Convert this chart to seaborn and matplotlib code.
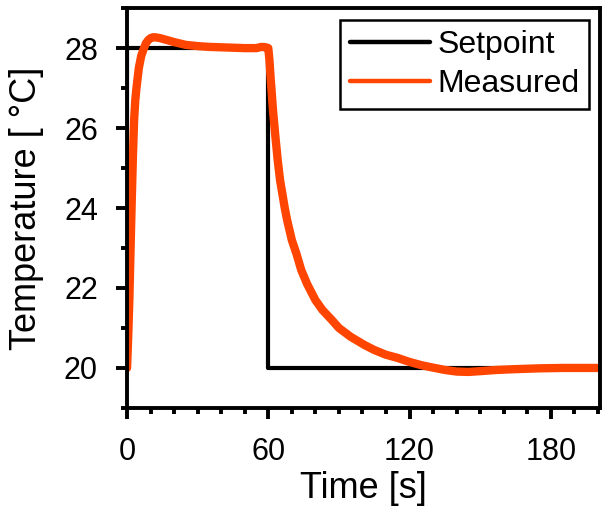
import numpy as np
import pandas as pd
import matplotlib
matplotlib.use("Agg")
import matplotlib.pyplot as plt
from matplotlib.ticker import MultipleLocator
import seaborn as sns

# -- Дані

# Задане значення (ступінчастий сигнал)
setpoint_t = [0, 0, 60, 60, 200]
setpoint_T = [20, 28, 28, 20, 20]

# Виміряна температура
measured_t = [0, 0.5, 1, 1.5, 2, 2.5, 3, 3.5, 4, 5, 6, 7, 8, 9, 10, 11, 12, 14,
              17, 20, 25, 30, 35, 40, 45, 50, 55, 57, 59, 60,
              60.5, 61, 61.5, 62, 63, 64, 65, 66, 67, 68, 70, 72, 74, 76.5, 80,
              83, 87, 90, 95, 101, 105, 110, 115, 120, 125, 129, 135, 140, 145,
              150, 157, 165, 175, 185, 200]
measured_T = [20, 20.8, 21.76, 23.0, 24.2, 25.3, 26.2, 26.7, 27.0, 27.5, 27.8,
              27.97, 28.12, 28.2, 28.25, 28.27, 28.27, 28.25,
              28.2, 28.15, 28.08, 28.05, 28.03, 28.02, 28.01, 28.0, 28.0, 28.03,
              28.02, 28.0,
              27.7, 27.25, 26.85, 26.45, 25.8, 25.2, 24.7, 24.35, 24.0, 23.7,
              23.2, 22.85, 22.45, 22.1, 21.7,
              21.45, 21.2, 21.0, 20.78, 20.57, 20.45, 20.33, 20.25, 20.15, 20.07,
              20.02, 19.95, 19.91, 19.9,
              19.92, 19.95, 19.97, 19.99, 20.0, 20.0]

df = pd.concat([
    pd.DataFrame({"t": setpoint_t, "T": setpoint_T, "series": "Setpoint"}),
    pd.DataFrame({"t": measured_t, "T": measured_T, "series": "Measured"}),
], ignore_index=True)

# -- Стиль

sns.set_style("ticks")
plt.rcParams["font.family"] = ["Liberation Sans", "DejaVu Sans"]
plt.rcParams["text.color"] = "black"
plt.rcParams["axes.labelcolor"] = "black"
plt.rcParams["xtick.color"] = "black"
plt.rcParams["ytick.color"] = "black"

fig = plt.figure(figsize=(6.05, 5.08), dpi=100)
ax = fig.add_axes([0.21, 0.197, 0.782, 0.787])

sns.lineplot(data=df, x="t", y="T", hue="series", size="series",
             sizes={"Setpoint": 3.0, "Measured": 6.0},
             palette={"Setpoint": "black", "Measured": "#FF4500"},
             estimator=None, sort=False, ax=ax)

ax.set_xlim(0, 201)
ax.set_ylim(19, 29)
ax.xaxis.set_major_locator(MultipleLocator(60))
ax.xaxis.set_minor_locator(MultipleLocator(10))
ax.yaxis.set_major_locator(MultipleLocator(2))
ax.yaxis.set_minor_locator(MultipleLocator(1))

for s in ax.spines.values():
    s.set_linewidth(2.8)
    s.set_color("black")

ax.tick_params(which="major", direction="out", length=8, width=2.8,
               labelsize=22, pad=13, top=False, right=False,
               colors="black")
ax.tick_params(which="minor", direction="out", length=4.5, width=2.8,
               top=False, right=False, colors="black")

ax.set_xlabel("Time [s]", fontsize=26, labelpad=3)
ax.set_ylabel("Temperature [ °C]", fontsize=26, labelpad=14)

leg = ax.legend(loc="upper right", fontsize=23, frameon=True, fancybox=False,
                framealpha=1, handlelength=2.5, handletextpad=0.25,
                borderpad=0.3, borderaxespad=0, labelspacing=0.3,
                bbox_to_anchor=(0.977, 0.97))
leg.get_frame().set_edgecolor("black")
leg.get_frame().set_linewidth(1.8)
for line in leg.get_lines():
    line.set_linewidth(3.2)

fig.savefig("out.png", dpi=100)
